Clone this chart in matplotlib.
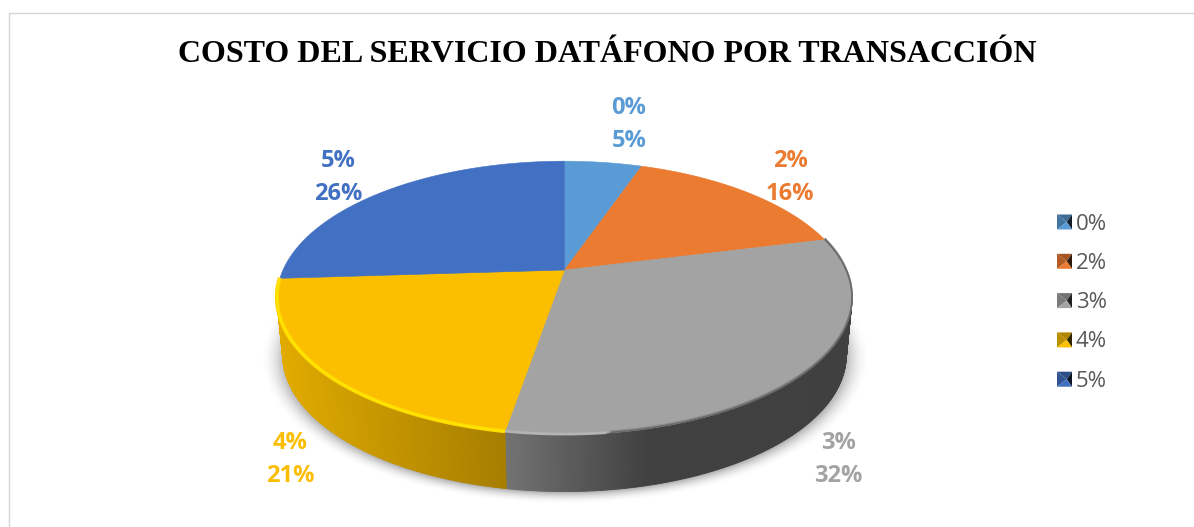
import numpy as np
import matplotlib
matplotlib.use("Agg")
import matplotlib.pyplot as plt
from matplotlib.patches import Polygon, Rectangle
from matplotlib.colors import to_rgb

title = "COSTO DEL SERVICIO DATÁFONO POR TRANSACCIÓN"
categories = ["0%", "2%", "3%", "4%", "5%"]
values = [5.3, 15.8, 31.6, 21.3, 26.0]
colors = ["#5B9BD5", "#EB7B30", "#A3A3A3", "#FBBE00", "#4270C2"]

# pie geometry in pixels
cx, cy = 564.5, 270
k = 0.204
a = 131
b = 281.5
depth = 57
shrink = 0.98


def project(theta):
    # theta clockwise from top, disc seen in perspective
    u, v = np.sin(theta), np.cos(theta)
    w = 1 + k * v
    return cx + b * u / w, cy - a * v / w


def shade(color, f):
    return tuple(min(1, c * f) for c in to_rgb(color))


fig = plt.figure(figsize=(11.94, 5.27), dpi=100)
ax = fig.add_axes([0, 0, 1, 1])
ax.set_xlim(0, 1194)
ax.set_ylim(527, 0)
ax.axis("off")

# chart frame
ax.add_patch(Rectangle((8.5, 12.5), 1300, 600, fc="white", ec="#D4D4D4", lw=1.0))

fractions = np.array(values) / sum(values)
edges = np.concatenate([[0], np.cumsum(fractions)]) * 2 * np.pi

# soft shadow under the pie
yy, xx = np.mgrid[0:527, 0:1194]
px, py = project(np.linspace(0, 2 * np.pi, 361))
ex0, ey0 = (px.max() + px.min()) / 2, (py.max() + py.min()) / 2 + depth + 3
erx, ery = (px.max() - px.min()) / 2 - 2, (py.max() - py.min()) / 2
dist = np.sqrt(((xx - ex0) / erx) ** 2 + ((yy - ey0) / ery) ** 2)
shadow = np.clip((1.07 - dist) / 0.09, 0, 1) ** 2 * 0.3
rgba = np.zeros((527, 1194, 4))
rgba[..., 3] = shadow
ax.imshow(rgba, extent=(0, 1194, 527, 0), zorder=1, aspect="auto")
ax.set_xlim(0, 1194)
ax.set_ylim(527, 0)

# side wall, front half of the disc only, in thin vertical strips
for i, col in enumerate(colors):
    t = np.linspace(edges[i], edges[i + 1], max(int(fractions[i] * 900), 2))
    t = t[np.cos(t) < -k + 0.02]
    if len(t) < 2:
        continue
    x, y = project(t)
    xb = cx + (x - cx) * shrink
    for j in range(len(t) - 1):
        pos = (x[j] - 277) / (852 - 277)
        if col == colors[3]:
            f = 0.90 - 0.24 * pos / 0.40
        else:
            f = 0.70 - 0.31 * np.clip((pos - 0.40) / 0.25, 0, 1)
        ax.add_patch(Polygon([(x[j], y[j]), (x[j + 1], y[j + 1]),
                              (xb[j + 1], y[j + 1] + depth), (xb[j], y[j] + depth)],
                             fc=shade(col, f), ec=shade(col, f), lw=0.6, zorder=2))

# top surface
for i, col in enumerate(colors):
    t = np.linspace(edges[i], edges[i + 1], 200)
    x, y = project(t)
    ax.add_patch(Polygon(np.column_stack([np.r_[cx, x], np.r_[cy, y]]), fc=col, ec=col, lw=0.4, zorder=3))
    if col == colors[3]:
        # bright bevel along the front rim
        front = np.cos(t) < 0.1
        ax.plot(x[front], y[front] - 0.5, color="#FFD400", lw=3.0, solid_capstyle="butt", zorder=4)
        ax.plot(x[front], y[front] - 0.5, color="#FFE600", lw=1.4, solid_capstyle="butt", zorder=4)
    elif col == colors[2]:
        # light edge at the front, blurred dark edge further right
        front = (np.cos(t) < 0.25) & (x > 610)
        light = x <= 610
        ax.plot(x[light], y[light] - 0.5, color="#B4B4B4", lw=2.0, solid_capstyle="butt", zorder=4)
        ax.plot(x[front], y[front] - 1.6, color="#8E8E8E", lw=1.2, solid_capstyle="butt", zorder=4)
        ax.plot(x[front], y[front] - 0.4, color="#6A6A6A", lw=1.2, solid_capstyle="butt", zorder=4)

# data labels
label_xy = [(629, 124.5), (790, 177.5), (838, 459.5), (290, 459.5), (338, 177.5)]
for (lx, ly), cat, val, col in zip(label_xy, categories, values, colors):
    ax.text(lx, ly - 16.5, cat, color=col, fontsize=17, fontweight="bold", family="Open Sans",
            ha="center", va="center", zorder=5)
    ax.text(lx, ly + 16.5, f"{val:.0f}%", color=col, fontsize=17, fontweight="bold", family="Open Sans",
            ha="center", va="center", zorder=5)

ax.text(607, 54, title, fontsize=23.05, fontweight="bold", family="Liberation Serif",
        ha="center", va="center", color="black", zorder=5)

# legend with bevelled keys
leg_x = 1057
leg_s = 15
for i, (cat, col) in enumerate(zip(categories, colors)):
    ly = 222 + i * 39.3
    x0, x1, y0, y1 = leg_x, leg_x + leg_s, ly - leg_s / 2, ly + leg_s / 2
    mx, my = leg_x + leg_s * 0.65, ly
    ax.add_patch(Polygon([(x0, y0), (x1, y0), (mx, my)], fc=shade(col, 0.7), zorder=5))
    ax.add_patch(Polygon([(x0, y0), (x0, y1), (mx, my)], fc=shade(col, 0.75), zorder=5))
    ax.add_patch(Polygon([(x1, y0), (x1, y1), (mx, my)], fc=shade(col, 0.2), zorder=5))
    ax.add_patch(Polygon([(x0, y1), (x1, y1), (mx, my)], fc=col, zorder=5))
    ax.text(1076, ly + 2, cat, fontsize=16, family="Open Sans", color="#595959", ha="left", va="center", zorder=5)

fig.savefig("out.png", dpi=100)
